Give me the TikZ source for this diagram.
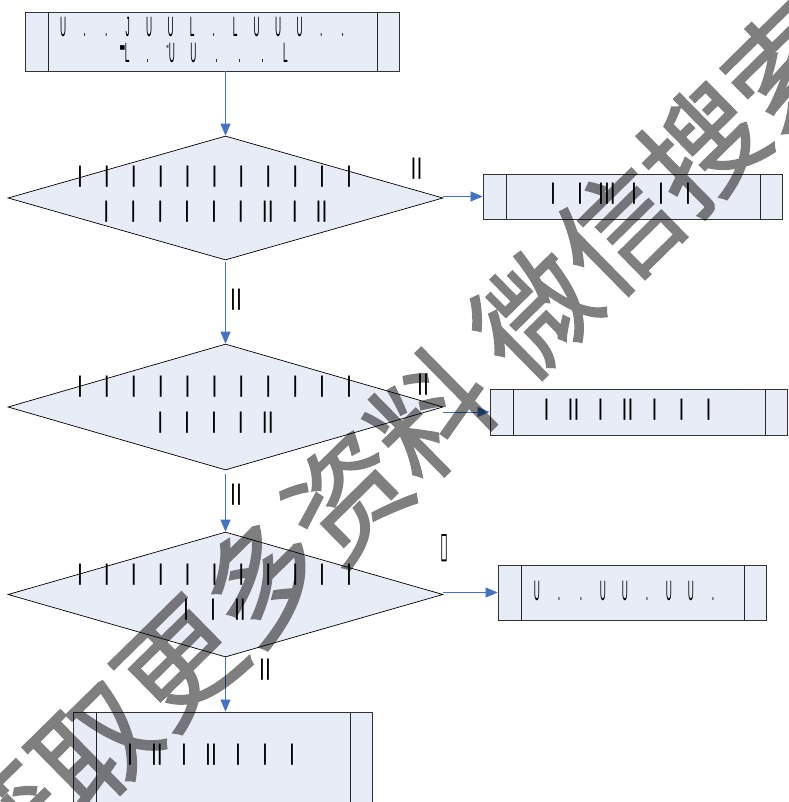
\documentclass[tikz,border=0pt]{standalone}
\usepackage{fontspec}
\usepackage{graphicx}
\usetikzlibrary{shapes.geometric,arrows.meta,calc}
\newfontfamily\barfont{Liberation Sans}
\newfontfamily\ufont[FakeStretch=0.3]{Liberation Sans}
\newfontfamily\dvfont{DejaVu Sans}
\newfontfamily\cjkfont[FakeBold=1.4]{Noto Sans CJK SC}
\definecolor{boxfill}{HTML}{E8ECF7}
\definecolor{flowblue}{HTML}{4472C4}
\newcommand\cells[2]{\foreach \gi in {#2}{\makebox[#1]{\gi}}}
\newcommand\sqL{\raisebox{13pt}{\dvfont\fontsize{6}{6}\selectfont ■}\kern-0.5pt L}
\newcommand\astU{\raisebox{12pt}{\dvfont\fontsize{7}{7}\selectfont *}\kern-0.5pt U}
\begin{document}
\begin{tikzpicture}[x=1pt,y=-1pt,
  procbox/.style={rectangle, draw=black!80, line width=0.9pt, fill=boxfill, inner sep=0pt,
    path picture={\draw[line width=0.9pt, black!85]
      ([xshift=23pt]path picture bounding box.north west) -- ([xshift=23pt]path picture bounding box.south west)
      ([xshift=-22pt]path picture bounding box.north east) -- ([xshift=-22pt]path picture bounding box.south east);}},
  decision/.style={diamond, draw=black, line width=0.7pt, fill=boxfill, inner sep=0pt},
  conn/.style={draw=flowblue, line width=0.8pt, -{Triangle[length=12pt,width=10pt]}},
  bartext/.style={font=\barfont\fontsize{22.7}{27}\selectfont, inner sep=0pt, anchor=base},
  utext/.style={font=\ufont\fontsize{28}{30}\selectfont, inner sep=0pt, anchor=base},
  wmark/.style={font=\cjkfont\fontsize{118}{118}\selectfont, text=black, inner sep=0pt}]
\useasboundingbox (0,0) rectangle (788,802);
\clip (0,0) rectangle (788,802);

% top process box
\node[procbox, minimum width=374pt, minimum height=59pt] (top) at (212,41.5) {};
\node[utext] (top1) at (203,37) {\cells{21.5pt}{U,.,.,J,U,U,L,.,L,U,U,U,.,.}};
\node[utext] (top2) at (205,63) {\cells{23pt}{\sqL,.,\astU,U,.,.,.,L}};

% decision 1
\node[decision, minimum width=435pt, minimum height=124pt] (d1) at (225.5,198) {};
\node[bartext] (d1a) at (214.5,183) {\cells{26.9pt}{|,|,|,|,|,|,|,|,|,|,|}};
\node[bartext] (d1b) at (214,218) {\cells{26.9pt}{|,|,|,|,|,|,||,|,||}};
\node[procbox, minimum width=299pt, minimum height=45pt] (b2) at (632.5,196.5) {};
\node[bartext] (b2t) at (620.5,200) {\cells{27pt}{|,|,|||,|,|,|}};

% decision 2
\node[decision, minimum width=435pt, minimum height=126pt] (d2) at (225.5,407) {};
\node[bartext] (d2a) at (214.5,392) {\cells{26.9pt}{|,|,|,|,|,|,|,|,|,|,|}};
\node[bartext] (d2b) at (214,428) {\cells{26.9pt}{|,|,|,|,||}};
\node[procbox, minimum width=297pt, minimum height=46pt] (b3) at (638.5,412) {};
\node[bartext] (b3t) at (627.5,415) {\cells{27pt}{|,||,|,||,|,|,|}};

% decision 3
\node[decision, minimum width=435pt, minimum height=125pt] (d3) at (225.5,594.5) {};
\node[bartext] (d3a) at (214.5,580) {\cells{26.9pt}{|,|,|,|,|,|,|,|,|,|,|}};
\node[bartext] (d3b) at (213,615) {\cells{26.9pt}{|,|,||}};
\node[procbox, minimum width=268pt, minimum height=55pt] (b4) at (632,592.5) {};
\node[utext] (b4t) at (625,600) {\cells{22pt}{U,.,.,U,U,.,U,U,.}};

% bottom box
\node[procbox, minimum width=299pt, minimum height=130pt] (b5) at (222.5,777) {};
\node[bartext] (b5t) at (211,760) {\cells{27pt}{|,||,|,||,|,|,|}};

% connectors
\draw[conn] (top.south -| d1.north) -- (d1.north);
\draw[conn] (d1.east |- b2.west) -- (b2.west);
\draw[conn, shorten <=2pt] (d1.south) -- (d2.north);
\draw[conn] (d2.east |- b3.west) -- (b3.west);
\draw[conn, shorten <=4pt] (d2.south) -- (d3.north);
\draw[conn] (d3.east |- b4.west) -- (b4.west);
\draw[conn] (d3.south) -- (d3.south |- b5.north);

% labels
\node[bartext] (l1) at (416.5,175) {||};
\node[bartext] (l2) at (236,305) {||};
\node[bartext] (l3) at (423,390) {||};
\node[bartext] (l4) at (236,500) {||};
\node[inner sep=0pt] (l5) at (444,548.5) {\resizebox{8pt}{23pt}{\dvfont ▯}};
\node[bartext] (l6) at (265,675) {||};

% watermark
\begin{scope}[transparency group, opacity=0.5]
\node[wmark, rotate=44.5, anchor=west] (wm) at (-32,869) {获取更多资料 微信搜索};
\end{scope}
\end{tikzpicture}
\end{document}
